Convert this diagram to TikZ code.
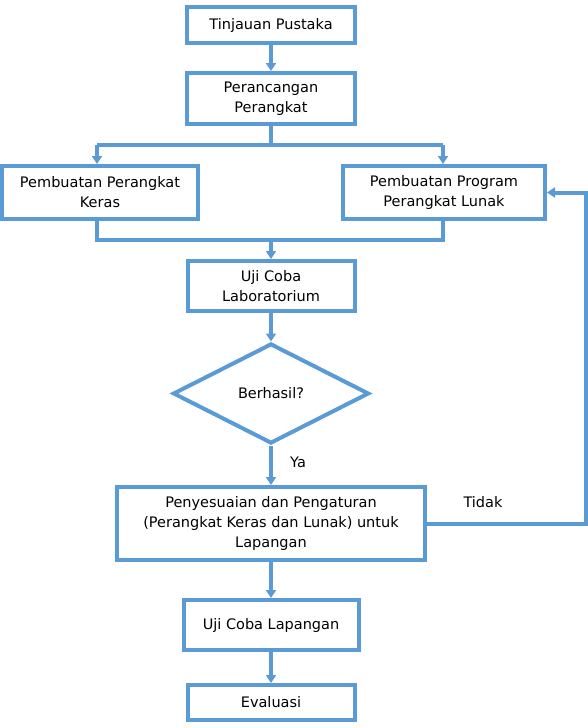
\documentclass[tikz,border=0pt]{standalone}
\usepackage{fontspec}
\setmainfont{DejaVu Sans}
\usetikzlibrary{shapes.geometric,arrows.meta}
\definecolor{flowblue}{RGB}{91,155,213}
\begin{document}
\begin{tikzpicture}
[x=1pt,y=-1pt,font=\fontsize{14.5}{20}\selectfont]
\tikzset{kotak/.style={draw=flowblue,line width=4pt,align=center,inner sep=0pt}}
\tikzset{belah/.style={diamond,draw=flowblue,line width=4pt,inner sep=0pt,minimum width=196pt,minimum height=100pt}}
\tikzset{garis/.style={draw=flowblue,line width=4pt}}
\tikzset{panah/.style={garis,-{Triangle[length=8pt,width=10pt]}}}
\useasboundingbox (0,0) rectangle (588,728);
\node [kotak,minimum width=168pt,minimum height=36pt] (n1) at (271,25) {Tinjauan Pustaka};
\node [kotak,minimum width=168pt,minimum height=51pt] (n2) at (271,98.5) {Perancangan\\Perangkat};
\node [kotak,minimum width=196pt,minimum height=53pt] (n3) at (100,192.5) {Pembuatan Perangkat\\Keras};
\node [kotak,minimum width=202pt,minimum height=53pt] (n4) at (444,192.5) {Pembuatan Program\\Perangkat Lunak};
\node [kotak,minimum width=167pt,minimum height=50pt] (n5) at (271,286) {Uji Coba\\Laboratorium};
\node [belah] (n6) at (271,393.5) {Berhasil?};
\node [kotak,minimum width=308pt,minimum height=73pt] (n7) at (271,523.5) {Penyesuaian dan Pengaturan\\(Perangkat Keras dan Lunak) untuk\\Lapangan};
\node [kotak,minimum width=175pt,minimum height=50pt] (n8) at (271,625) {Uji Coba Lapangan};
\node [kotak,minimum width=167pt,minimum height=35pt] (n9) at (271,702.5) {Evaluasi};
\node (ya) at (298,462) {Ya};
\node (tidak) at (483,502) {Tidak};
\coordinate (c1) at (97,145);
\coordinate (c2) at (443,145);
\coordinate (c3) at (97,240);
\coordinate (c4) at (443,240);
\coordinate (c5) at (585.5,0);

\foreach \from/\to in {n1/n2,n5/n6,n6/n7,n7/n8,n8/n9}
	\draw [panah] (\from) -- (\to);
\draw [garis] (n2.south) -- (c1 -| n2.south);
\draw [garis] (c1) -- (c2);
\draw [panah] (c1) -- (c1 |- n3.north);
\draw [panah] (c2) -- (c2 |- n4.north);
\draw [garis] (c3 |- n3.south) -- (c3) -- (c4) -- (c4 |- n4.south);
\draw [panah] (c3 -| n5.north) -- (n5.north);
\draw [panah] (n7.east) -- (c5 |- n7.east) -- (c5 |- n4.east) -- (n4.east);
\end{tikzpicture}
\end{document}
